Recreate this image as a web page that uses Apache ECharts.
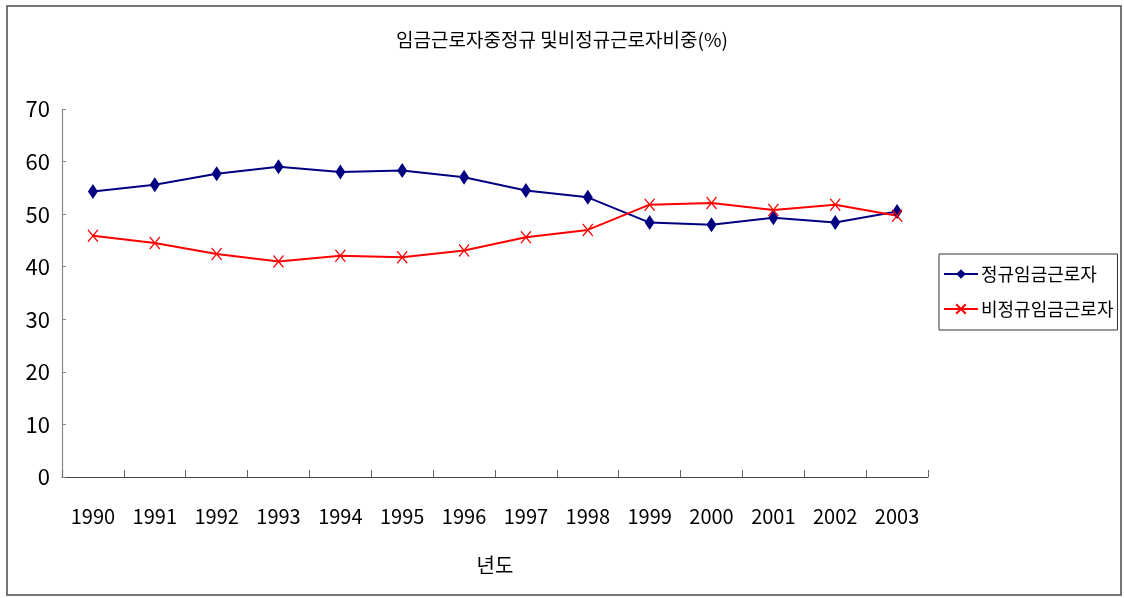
<!DOCTYPE html>
<html>
<head>
<meta charset="utf-8">
<script src="https://cdn.jsdelivr.net/npm/echarts@6/dist/echarts.min.js"></script>
<style>
  html, body { margin: 0; padding: 0; background: #fff; }
  #chart { width: 1124px; height: 598px; }
</style>
</head>
<body>
<div id="chart"></div>
<script>
// 연도
const years = ['1990', '1991', '1992', '1993', '1994', '1995', '1996', '1997', '1998', '1999', '2000', '2001', '2002', '2003'];
// 정규 임금근로자 비중(%)
const regular = [54.3, 55.6, 57.7, 59.0, 58.0, 58.3, 57.0, 54.5, 53.2, 48.4, 48.0, 49.3, 48.4, 50.5];
// 비정규 임금근로자 비중(%)
const nonRegular = [45.9, 44.5, 42.4, 41.0, 42.1, 41.8, 43.1, 45.6, 47.0, 51.8, 52.1, 50.8, 51.8, 49.7];
// 세로축 눈금
const yTicks = [0, 10, 20, 30, 40, 50, 60, 70];

const FONT = '"Noto Sans CJK KR", "Noto Sans", sans-serif';
const xMark = 'path://M0,0L10,12M10,0L0,12';

const chart = echarts.init(document.getElementById('chart'), null, { renderer: 'canvas' });

chart.setOption({
  backgroundColor: '#ffffff',
  animation: false,
  textStyle: { fontFamily: FONT, color: '#000' },
  title: {
    text: '임금근로자중정규 및비정규근로자비중(%)',
    left: 'center',
    top: 25,
    textStyle: { fontFamily: FONT, fontSize: 19, fontWeight: 'normal', color: '#000' }
  },
  graphic: [{
    type: 'rect',
    shape: { x: 7, y: 6, width: 1114, height: 589 },
    style: { fill: 'none', stroke: '#4a4a4a', lineWidth: 1.5 },
    silent: true
  }],
  legend: {
    orient: 'vertical',
    left: 939,
    top: 254,
    padding: [11, 4, 12, 4],
    itemGap: 17,
    itemWidth: 34,
    itemHeight: 12,
    borderColor: '#333',
    borderWidth: 1,
    textStyle: { fontFamily: FONT, fontSize: 18, color: '#000', padding: [0, 0, 0, -2] },
    data: ['정규임금근로자', '비정규임금근로자']
  },
  grid: { left: 62, right: 196, top: 109, bottom: 121, containLabel: false },
  xAxis: {
    type: 'category',
    data: years,
    boundaryGap: true,
    name: '년도',
    nameLocation: 'middle',
    nameGap: 78,
    nameTextStyle: { fontFamily: FONT, fontSize: 20, color: '#000' },
    axisLine: { show: true, lineStyle: { color: '#444', width: 1.2 } },
    axisTick: { show: true, inside: true, length: 7, alignWithLabel: false, lineStyle: { color: '#666' } },
    axisLabel: { margin: 29, fontFamily: FONT, fontSize: 20, color: '#000', interval: 0 },
    splitLine: { show: false }
  },
  yAxis: {
    type: 'value',
    min: yTicks[0],
    max: yTicks[yTicks.length - 1],
    interval: 10,
    axisLine: { show: true, lineStyle: { color: '#888', width: 1.2 } },
    axisTick: { show: true, inside: true, length: 4, lineStyle: { color: '#888' } },
    axisLabel: { margin: 12, fontFamily: FONT, fontSize: 22, color: '#000' },
    splitLine: { show: false }
  },
  series: [
    {
      name: '정규임금근로자',
      type: 'line',
      data: regular,
      symbol: 'diamond',
      symbolSize: [10, 15],
      lineStyle: { color: '#000080', width: 2 },
      itemStyle: { color: '#000080' }
    },
    {
      name: '비정규임금근로자',
      type: 'line',
      data: nonRegular,
      symbol: xMark,
      symbolSize: [10, 12],
      lineStyle: { color: '#ff0000', width: 2 },
      itemStyle: { color: '#ff0000', borderColor: '#ff0000', borderWidth: 1.3 }
    }
  ]
});
</script>
</body>
</html>
